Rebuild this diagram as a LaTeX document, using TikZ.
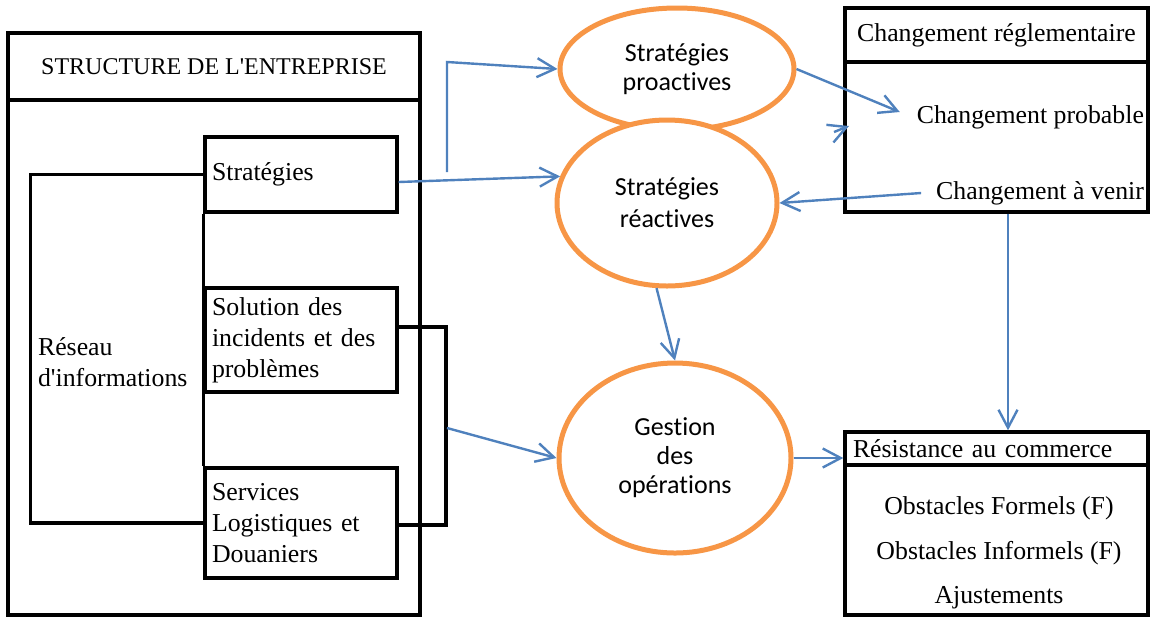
\documentclass[tikz,border=0pt]{standalone}
\usepackage{fontspec}
\setmainfont{Liberation Serif}
\newfontfamily\calibri[Ligatures={NoCommon}]{Carlito}
\usepackage{tikz}
\usetikzlibrary{positioning,arrows.meta}
\usetikzlibrary{shapes.geometric}
\definecolor{bleu}{HTML}{4F81BD}
\definecolor{orangebulle}{HTML}{F79646}
\tikzstyle{cadre}=[draw, line width=1.7pt, inner sep=0pt, font=\fontsize{12.9}{15.5}\selectfont]
\tikzstyle{boite}=[cadre, minimum width=96pt, text width=89pt, inner xsep=3.5pt, align=left]
\tikzstyle{texte}=[font=\fontsize{12.9}{15.5}\selectfont]
\tikzstyle{bulle}=[ellipse, draw=orangebulle, line width=2.5pt, fill=white, align=center, inner sep=0pt, font=\calibri\fontsize{13}{14.5}\selectfont]
\tikzstyle{fleche}=[draw=bleu, line width=1.2pt, -{Straight Barb[length=9pt,width=9.5pt]}]

\begin{document}
\begin{tikzpicture}[x=0.5pt, y=-0.5pt]
		\useasboundingbox (0,0) rectangle (1150,617);
		% structure de l'entreprise
		\node[cadre, minimum width=206pt, minimum height=291pt] (entreprise) at (214,324) {};
		\node[cadre, minimum width=206pt, minimum height=33.5pt, font=\fontsize{12}{14}\selectfont] (titre) at (214,66.5) {STRUCTURE DE L\textquotesingle ENTREPRISE};
		\node[boite, minimum height=37.5pt] (strat) at (301,174.5) {\raisebox{-1.5pt}{Stratégies}};
		\node[boite, minimum height=52pt] (solution) at (301,340) {Solution des\\incidents et des\\problèmes};
		\node[boite, minimum height=55pt] (services) at (301,523) {Services\\Logistiques et\\Douaniers};
		\node[texte, anchor=west, align=left] (reseau) at (31,362) {Réseau\\d\textquotesingle informations};
		\draw[line width=1.7pt] (strat.south west) -- (services.north west);
		\draw[line width=1.7pt] (strat.west) -- ++(-86.5pt,0) |- (services.west);
		\draw[line width=1.7pt] (solution.east |- 0,327) -| (446,525) -- (services.east |- 0,525);
		% changement reglementaire
		\node[cadre, minimum width=151.5pt, minimum height=102pt] (reglement) at (996.5,110) {};
		\node[cadre, minimum width=151.5pt, minimum height=27pt] (reglementtitre) at (996.5,35) {Changement réglementaire};
		\node[texte, anchor=east] (probable) at (1151,117) {Changement probable};
		\node[texte, anchor=east] (avenir) at (1151,193) {Changement à venir};
		% resistance au commerce
		\node[cadre, minimum width=151.5pt, minimum height=91.5pt] (resistance) at (996.5,523.5) {};
		\node[cadre, minimum width=151.5pt, minimum height=16.5pt, text width=143.5pt, inner xsep=4pt, align=left] (resistancetitre) at (996.5,448.5) {Résistance au commerce};
		\node[texte] (formels) at (999,508) {Obstacles Formels (F)};
		\node[texte] (informels) at (999,553) {Obstacles Informels (F)};
		\node[texte] (ajustements) at (999,598) {Ajustements};
		% strategies
		\node[bulle, minimum width=117pt, minimum height=61pt] (proactive) at (677,69) {\raisebox{-2.5pt}{Stratégies}\\\raisebox{-2.5pt}{proactives}};
		\node[bulle, minimum width=110pt, minimum height=83pt] (reactive) at (667,203) {Stratégies\\\raisebox{-1.5pt}{réactives}};
		\node[bulle, minimum width=116pt, minimum height=95pt] (gestion) at (675,458) {\raisebox{-1.5pt}{Gestion}\\\raisebox{-1.5pt}{des}\\\raisebox{-1.5pt}{opérations}};
		% fleches
		\coordinate (pied) at (447,172);
		\coordinate (coude) at (447,62);
		\coordinate (liaison) at (447,428);
		\coordinate (petitdebut) at (834,132);
		\coordinate (petitfin) at (849,126);
		\draw[fleche] ([yshift=-3.75pt]strat.east) -- (reactive.166);
		\draw[fleche] (pied) -- (coude) -- (proactive.west);
		\draw[fleche] (proactive.east) -- ([xshift=-5pt,yshift=2.5pt]probable.west);
		\draw[fleche] (petitdebut) -- (petitfin);
		\draw[fleche] ([xshift=-4pt]avenir.west) -- (reactive.east);
		\draw[fleche] ([xshift=5.75pt]reglement.south) -- ([xshift=5.75pt]resistance.north);
		\draw[fleche] (reactive.263) -- (gestion.north);
		\draw[fleche] (liaison) -- (gestion.west);
		\draw[fleche] (gestion.east) -- (gestion.east -| resistance.west);
	\end{tikzpicture}
\end{document}
